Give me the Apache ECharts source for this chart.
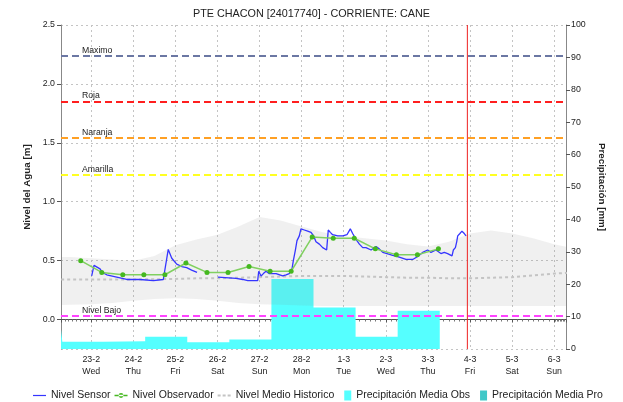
<!DOCTYPE html>
<html>
<head>
<meta charset="utf-8">
<script src="https://cdn.jsdelivr.net/npm/echarts@6/dist/echarts.min.js"></script>
<style>
  html, body { margin: 0; padding: 0; background: #ffffff; }
  #chart { width: 623px; height: 402px; }
</style>
</head>
<body>
<div id="chart"></div>
<script>
// ---- station data ----
const chartTitle = 'PTE CHACON [24017740] - CORRIENTE: CANE';

// Nivel Sensor (m), telemetry readings
const sensorTimes = [
  '2022-02-23 00:15','2022-02-23 01:35','2022-02-23 05:00','2022-02-23 06:20','2022-02-23 08:50',
  '2022-02-23 14:30','2022-02-23 20:15','2022-02-24 03:50','2022-02-24 11:25','2022-02-24 17:05',
  '2022-02-24 18:05','2022-02-24 19:55','2022-02-24 21:55','2022-02-25 00:45','2022-02-25 03:35',
  '2022-02-25 06:25','2022-02-25 09:15','2022-02-25 12:20','2022-02-25 18:00','2022-02-26 00:15',
  '2022-02-26 10:35','2022-02-26 14:25','2022-02-26 17:15','2022-02-26 22:55','2022-02-26 23:30',
  '2022-02-27 00:50','2022-02-27 02:10','2022-02-27 03:40','2022-02-27 05:35','2022-02-27 09:25',
  '2022-02-27 13:10','2022-02-27 15:05','2022-02-27 16:55','2022-02-27 18:30','2022-02-27 19:15',
  '2022-02-27 20:25','2022-02-27 21:20','2022-02-27 22:40','2022-02-27 23:35','2022-02-28 01:30',
  '2022-02-28 03:25','2022-02-28 05:20','2022-02-28 06:50','2022-02-28 08:10','2022-02-28 10:05',
  '2022-02-28 12:00','2022-02-28 14:15','2022-02-28 15:10','2022-02-28 16:20','2022-02-28 17:40',
  '2022-02-28 20:35','2022-02-28 23:25','2022-03-01 01:50','2022-03-01 03:45','2022-03-01 05:05',
  '2022-03-01 07:00','2022-03-01 08:55','2022-03-01 10:50','2022-03-01 12:40','2022-03-01 15:35',
  '2022-03-01 18:25','2022-03-01 20:15','2022-03-01 22:15','2022-03-02 00:40','2022-03-02 03:55',
  '2022-03-02 07:40','2022-03-02 11:30','2022-03-02 15:20','2022-03-02 18:10','2022-03-02 21:00',
  '2022-03-02 23:50','2022-03-03 01:45','2022-03-03 04:35','2022-03-03 07:25','2022-03-03 09:20',
  '2022-03-03 11:15','2022-03-03 13:45','2022-03-03 14:30','2022-03-03 15:40','2022-03-03 16:25',
  '2022-03-03 17:00','2022-03-03 18:15','2022-03-03 19:25','2022-03-03 20:45','2022-03-03 21:45'
];
const sensorLevels = [
  0.37, 0.46, 0.43, 0.40, 0.38,
  0.36, 0.34, 0.34, 0.33, 0.34,
  0.34, 0.595, 0.52, 0.47, 0.45,
  0.44, 0.42, 0.40, null, 0.36,
  0.35, 0.34, 0.33, 0.33, 0.41,
  0.37, 0.39, 0.41, 0.39, 0.39,
  0.37, 0.38, 0.39, 0.43, 0.50,
  0.59, 0.67, 0.71, 0.77, 0.76,
  0.75, 0.74, 0.71, 0.66, 0.64,
  0.61, 0.59, 0.76, 0.74, 0.72,
  0.71, 0.71, 0.72, 0.77, 0.73,
  0.68, 0.64, 0.61, 0.61, 0.59,
  0.62, 0.60, 0.57, 0.56, 0.545,
  0.53, 0.51, 0.51, 0.535, 0.57,
  0.59, 0.57, 0.59, 0.56, 0.57,
  0.56, 0.54, 0.59, 0.61, 0.66,
  0.71, 0.73, 0.75, 0.73, 0.71
];

// Nivel Observador (m), manual readings 06h / 18h
const observerTimes = [
  '2022-02-22 18:00','2022-02-23 06:00','2022-02-23 18:00','2022-02-24 06:00','2022-02-24 18:00',
  '2022-02-25 06:00','2022-02-25 18:00','2022-02-26 06:00','2022-02-26 18:00','2022-02-27 06:00',
  '2022-02-27 18:00','2022-02-28 06:00','2022-02-28 18:00','2022-03-01 06:00','2022-03-01 18:00',
  '2022-03-02 06:00','2022-03-02 18:00','2022-03-03 06:00'
];
const observerLevels = [
  0.50, 0.40, 0.38, 0.38, 0.38,
  0.48, 0.40, 0.40, 0.45, 0.41,
  0.41, 0.70, 0.69, 0.69, 0.60,
  0.55, 0.55, 0.60
];

// Historic statistics (m): range band and mean
const histTimes = [
  '2022-02-22 00:00','2022-02-22 12:00','2022-02-23 00:00','2022-02-23 12:00','2022-02-24 00:00',
  '2022-02-24 12:00','2022-02-25 00:00','2022-02-25 12:00','2022-02-26 00:00','2022-02-26 12:00',
  '2022-02-27 00:00','2022-02-27 12:00','2022-02-28 00:00','2022-02-28 12:00','2022-03-01 00:00',
  '2022-03-01 12:00','2022-03-02 00:00','2022-03-02 12:00','2022-03-03 00:00','2022-03-03 12:00',
  '2022-03-04 00:00','2022-03-04 12:00','2022-03-05 00:00','2022-03-05 12:00','2022-03-06 00:00',
  '2022-03-06 12:00'
];
const histMin = [
  0.12, 0.125, 0.13, 0.14, 0.16,
  0.175, 0.18, 0.175, 0.16, 0.14,
  0.13, 0.125, 0.12, 0.115, 0.115,
  0.115, 0.115, 0.115, 0.115, 0.115,
  0.115, 0.115, 0.115, 0.115, 0.115,
  0.115
];
const histMax = [
  0.53, 0.53, 0.52, 0.51, 0.50,
  0.54, 0.63, 0.68, 0.72, 0.79,
  0.87, 0.84, 0.79, 0.74, 0.71,
  0.69, 0.67, 0.64, 0.62, 0.66,
  0.73, 0.755, 0.73, 0.69, 0.64,
  0.60
];
const histMean = [
  0.34, 0.34, 0.34, 0.34, 0.34,
  0.342, 0.345, 0.35, 0.35, 0.355,
  0.36, 0.365, 0.37, 0.37, 0.37,
  0.365, 0.36, 0.355, 0.355, 0.35,
  0.35, 0.355, 0.36, 0.375, 0.39,
  0.40
];

// Precipitación Media Obs (mm), daily totals starting at each time
const rainTimes = [
  '2022-02-22 06:45','2022-02-22 07:30','2022-02-23 06:45','2022-02-24 06:45','2022-02-25 06:45',
  '2022-02-26 06:45','2022-02-27 06:45','2022-02-28 06:45','2022-03-01 06:45','2022-03-02 06:45',
  '2022-03-03 06:45'
];
const rainObs = [6.1, 2.2, 2.4, 3.8, 2.1, 2.9, 21.6, 12.8, 3.8, 11.8, 0];

// Alert thresholds (m)
const thresholdNames = ['Maximo', 'Roja', 'Naranja', 'Amarilla', 'Nivel Bajo'];
const thresholdLevels = [2.24, 1.85, 1.54, 1.23, 0.03];
const thresholdColors = ['#6b77a3', '#ff1f1f', '#ffa024', '#ffff22', '#ff44ff'];

// Current-time marker, spanning the whole level axis
const nowTimes = ['2022-03-03 22:30', '2022-03-03 22:30'];
const nowLevels = [-0.25, 2.5];

const xStart = '2022-02-22 06:45';
const xEnd = '2022-03-06 06:45';
const dayNames = ['Sun', 'Mon', 'Tue', 'Wed', 'Thu', 'Fri', 'Sat'];

// ---- helpers ----
function toMs(s) {
  const [d, t] = s.split(' ');
  const [y, m, dd] = d.split('-').map(Number);
  const [hh, mm] = t.split(':').map(Number);
  return new Date(y, m - 1, dd, hh, mm).getTime();
}
function zip(times, values) {
  return times.map((t, i) => [toMs(t), values[i]]);
}
function hasFont(name) {
  const ctx = document.createElement('canvas').getContext('2d');
  const probe = 'Nivel Sensor Precipitación 0123';
  ctx.font = '20px monospace';
  const a = ctx.measureText(probe).width;
  ctx.font = '20px "' + name + '", monospace';
  return ctx.measureText(probe).width !== a;
}

const narrow = hasFont('Liberation Sans Narrow');
const FONT = narrow
  ? '"Liberation Sans Narrow", "Liberation Sans", Arial, sans-serif'
  : '"Liberation Sans", Arial, sans-serif';
const K = narrow ? 1.22 : 1;
const fs = {
  title: 10.8 * K,
  legend: 10.5 * K,
  axis: 8.8 * K,
  mark: 8.7 * K,
  name: 9.8 * K
};

// legend glyphs (13 x 10 box)
const ICON_SENSOR = 'path://M0,4.4h13v1.2h-13z';
const ICON_OBS = 'path://M0,4.3h13v1.4h-13z M6.5,2.6a2.4,2.4 0 1,0 0.01,0z';
const ICON_MEAN = 'path://M0,4h3v2h-3z M5,4h3v2h-3z M10,4h3v2h-3z M0,0L0.01,0 M0,10L0.01,10';
const ICON_RAIN = 'path://M0,5L0.01,5 M6,0h7v10h-7z';

const chart = echarts.init(document.getElementById('chart'), null, { renderer: 'canvas' });

const thresholdMarks = thresholdLevels.map((v, i) => ({
  yAxis: v,
  name: thresholdNames[i],
  lineStyle: { color: thresholdColors[i], type: [7, 4], width: 2 },
  label: {
    show: true,
    position: 'insideStartTop',
    formatter: '{b}',
    color: '#222',
    fontFamily: FONT,
    fontSize: fs.mark,
    distance: [21, 1]
  }
}));

const option = {
  animation: false,
  backgroundColor: '#ffffff',
  textStyle: { fontFamily: FONT },
  title: {
    text: chartTitle,
    left: 'center',
    top: 4,
    textStyle: { fontFamily: FONT, fontSize: fs.title, fontWeight: 'normal', color: '#222' }
  },
  legend: {
    top: 390,
    left: 33,
    padding: 0,
    itemGap: 4,
    itemWidth: 13,
    itemHeight: 10,
    textStyle: { fontFamily: FONT, fontSize: fs.legend, color: '#222' },
    data: [
      { name: 'Nivel Sensor', icon: ICON_SENSOR },
      { name: 'Nivel Observador', icon: ICON_OBS },
      { name: 'Nivel Medio Historico', icon: ICON_MEAN },
      { name: 'Precipitación Media Obs', icon: ICON_RAIN },
      { name: 'Precipitación Media Pro', icon: ICON_RAIN }
    ]
  },
  grid: { left: 61, right: 57, top: 25, bottom: 53 },
  xAxis: {
    type: 'time',
    min: toMs(xStart),
    max: toMs(xEnd),
    splitNumber: 12,
    minInterval: 86400000,
    maxInterval: 86400000,
    axisLine: { show: true, lineStyle: { color: '#555' } },
    axisTick: { show: true, length: 3, lineStyle: { color: '#555' } },
    minorTick: { show: true, splitNumber: 8, length: 2, lineStyle: { color: '#777' } },
    axisLabel: {
      interval: 0,
      hideOverlap: false,
      showMinLabel: false,
      showMaxLabel: false,
      margin: 5,
      lineHeight: 11.5,
      color: '#222',
      fontFamily: FONT,
      fontSize: fs.axis,
      formatter: function (v) {
        const d = new Date(v);
        if (d.getHours() !== 0 || d.getMinutes() !== 0) return '';
        return d.getDate() + '-' + (d.getMonth() + 1) + '\n' + dayNames[d.getDay()];
      }
    },
    splitLine: { show: true, lineStyle: { color: '#c4c4c4', type: [2, 3], width: 1 } }
  },
  yAxis: [
    {
      type: 'value',
      position: 'left',
      min: -0.25,
      max: 2.5,
      name: 'Nivel del Agua [m]',
      nameLocation: 'middle',
      nameGap: 24,
      nameRotate: 90,
      nameTextStyle: { fontFamily: FONT, fontSize: fs.name, fontWeight: 'bold', color: '#222' },
      axisLine: { show: true, lineStyle: { color: '#888' } },
      axisTick: { show: true, length: 4, lineStyle: { color: '#555' } },
      axisLabel: {
        showMinLabel: false,
        margin: 6,
        color: '#222',
        fontFamily: FONT,
        fontSize: fs.axis,
        formatter: v => v.toFixed(1)
      },
      splitLine: { show: true, lineStyle: { color: '#c4c4c4', type: [2, 3], width: 1 } }
    },
    {
      type: 'value',
      position: 'right',
      min: 0,
      max: 100,
      interval: 10,
      name: 'Precipitación [mm]',
      nameLocation: 'middle',
      nameGap: 27,
      nameRotate: -90,
      nameTextStyle: { fontFamily: FONT, fontSize: fs.name, fontWeight: 'bold', color: '#222' },
      axisLine: { show: true, lineStyle: { color: '#888' } },
      axisTick: { show: true, length: 4, lineStyle: { color: '#555' } },
      axisLabel: { margin: 5, color: '#222', fontFamily: FONT, fontSize: fs.axis },
      splitLine: { show: false }
    }
  ],
  series: [
    {
      name: 'Precipitación Media Obs',
      type: 'line',
      yAxisIndex: 1,
      step: 'end',
      symbol: 'none',
      color: '#55ffff',
      lineStyle: { width: 0 },
      areaStyle: { color: '#55ffff', opacity: 1 },
      z: 1,
      data: zip(rainTimes, rainObs)
    },
    {
      name: 'Precipitación Media Pro',
      type: 'line',
      yAxisIndex: 1,
      step: 'end',
      symbol: 'none',
      color: '#40c8c8',
      lineStyle: { width: 0 },
      areaStyle: { color: '#40c8c8', opacity: 1 },
      z: 1,
      data: []
    },
    {
      name: 'Rango Historico Min',
      type: 'line',
      stack: 'hist',
      symbol: 'none',
      silent: true,
      lineStyle: { width: 0 },
      z: 2,
      data: zip(histTimes, histMin)
    },
    {
      name: 'Rango Historico',
      type: 'line',
      stack: 'hist',
      symbol: 'none',
      silent: true,
      lineStyle: { width: 0 },
      areaStyle: { color: 'rgba(128,128,128,0.12)', opacity: 1 },
      z: 2,
      data: zip(histTimes, histMax.map((v, i) => v - histMin[i]))
    },
    {
      name: 'Nivel Medio Historico',
      type: 'line',
      symbol: 'none',
      color: '#c4c4c4',
      lineStyle: { color: '#c4c4c4', width: 2, type: [3, 3] },
      z: 3,
      data: zip(histTimes, histMean)
    },
    {
      name: 'Nivel Sensor',
      type: 'line',
      symbol: 'none',
      connectNulls: false,
      color: '#3535ff',
      lineStyle: { color: '#3535ff', width: 1.3 },
      z: 5,
      data: zip(sensorTimes, sensorLevels)
    },
    {
      name: 'Nivel Observador',
      type: 'line',
      symbol: 'circle',
      symbolSize: 5,
      color: '#45b820',
      lineStyle: { color: '#80d060', width: 1.5 },
      itemStyle: { color: '#45b820' },
      z: 6,
      data: zip(observerTimes, observerLevels),
      markLine: {
        silent: true,
        symbol: 'none',
        animation: false,
        data: thresholdMarks
      }
    },
    {
      name: 'Ahora',
      type: 'line',
      symbol: 'none',
      silent: true,
      color: '#ee2222',
      lineStyle: { color: '#ee2222', width: 1 },
      z: 7,
      data: zip(nowTimes, nowLevels)
    }
  ]
};

chart.setOption(option);
</script>
</body>
</html>
